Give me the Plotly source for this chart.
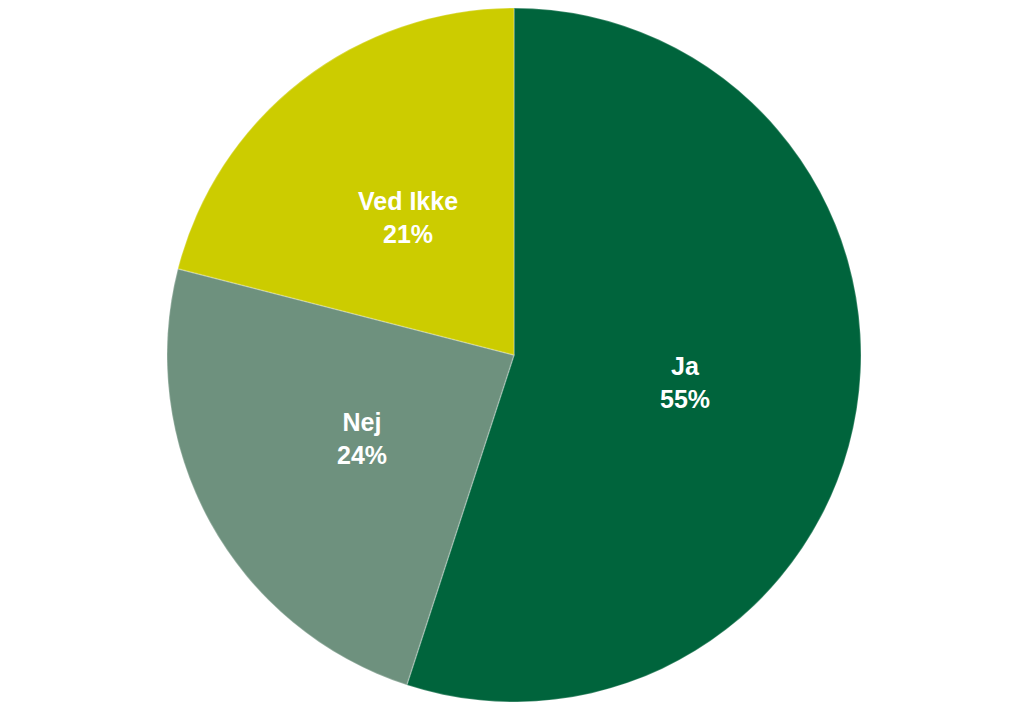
import math
import plotly.graph_objects as go

labels = ["Ja", "Nej", "Ved Ikke"]
values = [55, 24, 21]
colors = ["#00643C", "#6E917E", "#CCCC00"]

W, H = 1030, 710
OFF = 8  # page body margin in the browser
CX, CY, R = 514 - OFF, 355 - OFF, 347  # pie centre / radius in figure pixels

fig = go.Figure(go.Pie(
    labels=labels,
    values=values,
    sort=False,
    direction="clockwise",
    rotation=0,
    marker=dict(colors=colors, line=dict(color="rgba(255,255,255,0.25)", width=1.5)),
    textinfo="none",
    domain=dict(x=[(CX - R) / W, (CX + R) / W], y=[(H - CY - R) / H, min(1.0, (H - CY + R) / H)]),
    hoverinfo="label+percent",
))

total = sum(values)
cum = 0
for lab, v in zip(labels, values):
    mid = (cum + v / 2) / total * 2 * math.pi
    cum += v
    px = CX + 0.5 * R * math.sin(mid)
    py = CY - 0.5 * R * math.cos(mid)
    fig.add_annotation(
        x=px / W, y=1 - py / H, xref="paper", yref="paper",
        text=f"<b>{lab}</b><br><b>{round(v / total * 100)}%</b>",
        showarrow=False, xanchor="center", yanchor="middle",
        font=dict(family="Liberation Sans, Arial, sans-serif", size=25, color="white"),
    )

fig.update_layout(
    width=W, height=H,
    margin=dict(l=0, r=0, t=0, b=0),
    paper_bgcolor="white",
    showlegend=False,
)
fig.write_html("out.html")
